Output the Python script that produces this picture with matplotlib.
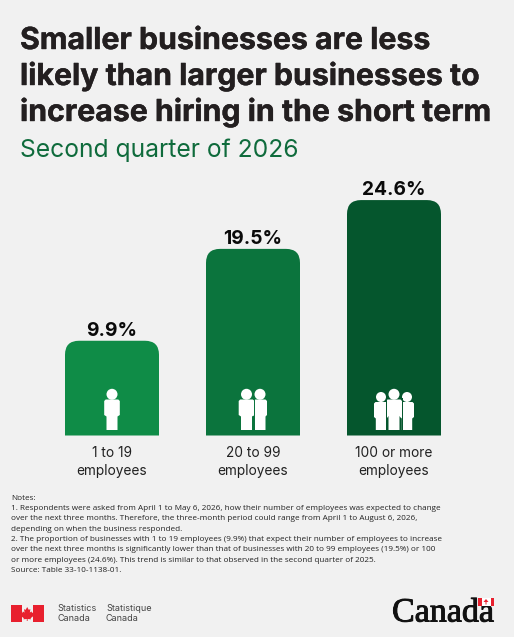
#!/usr/bin/env python3
# -*- coding: utf-8 -*-
import matplotlib
matplotlib.use('Agg')
import matplotlib.pyplot as plt
import matplotlib.patheffects as pe
from matplotlib.patches import PathPatch, Circle, Polygon, Rectangle
from matplotlib.path import Path

W, H = 514, 637
BG = '#f1f1f1'

categories = ['1 to 19\nemployees', '20 to 99\nemployees', '100 or more\nemployees']
values = [9.9, 19.5, 24.6]
bar_labels = ['9.9%', '19.5%', '24.6%']
bar_colors = ['#0f8c47', '#0b743d', '#05562d']

title_lines = ['Smaller businesses are less',
               'likely than larger businesses to',
               'increase hiring in the short term']
subtitle = 'Second quarter of 2026'
notes = ['Notes:',
         '1. Respondents were asked from April 1 to May 6, 2026, how their number of employees was expected to change',
         'over the next three months. Therefore, the three-month period could range from April 1 to August 6, 2026,',
         'depending on when the business responded.',
         '2. The proportion of businesses with 1 to 19 employees (9.9%) that expect their number of employees to increase',
         'over the next three months is significantly lower than that of businesses with 20 to 99 employees (19.5%) or 100',
         'or more employees (24.6%). This trend is similar to that observed in the second quarter of 2025.',
         'Source: Table 33-10-1138-01.']

plt.rcParams['font.family'] = ['Inter', 'DejaVu Sans']

fig = plt.figure(figsize=(W / 100, H / 100), dpi=100, facecolor=BG)

# overlay in image pixels, y pointing down, sits above the bars
bg = fig.add_axes([0, 0, 1, 1], zorder=2)
bg.set_xlim(0, W)
bg.set_ylim(H, 0)
bg.axis('off')

# data axes: 141 px per category, 9.57 px per percent
PX_X = 141
PX_Y = 9.57
BASE = 435.5
ax = fig.add_axes([41.5 / W, (H - BASE) / H, 3 * PX_X / W, 25 * PX_Y / H], zorder=1)
ax.set_xlim(-0.5, 2.5)
ax.set_ylim(0, 25)
ax.axis('off')


def rounded_bar(x, v, color, width=94 / 141, r_px=14):
    rx = r_px / PX_X
    ry = r_px / PX_Y
    l, r = x - width / 2, x + width / 2
    verts = [(l, 0), (l, v - ry), (l, v), (l + rx, v), (r - rx, v), (r, v), (r, v - ry), (r, 0), (l, 0)]
    codes = [Path.MOVETO, Path.LINETO, Path.CURVE3, Path.CURVE3, Path.LINETO,
             Path.CURVE3, Path.CURVE3, Path.LINETO, Path.CLOSEPOLY]
    ax.add_patch(PathPatch(Path(verts, codes), facecolor=color, edgecolor='none'))


for i, v in enumerate(values):
    rounded_bar(i, v, bar_colors[i])
    ax.annotate(bar_labels[i], (i, v), xytext=(0, 0.5), textcoords='offset points', ha='center', va='bottom',
                fontsize=13.8, fontweight='bold', color='#0a0a0a', annotation_clip=False)
    bg.text(112 + i * PX_X, 461.8, categories[i], ha='center', va='center', fontsize=9.85, color='#222222',
            linespacing=1.4)


def person(cx, head_y, half_w, half_leg, top, arm, bottom, color='white', head_r=5.5):
    bg.add_patch(Circle((cx, head_y), head_r, fc=color, ec='none', zorder=5))
    pts = [(cx - half_w + 1.5, top), (cx + half_w - 1.5, top), (cx + half_w, top + 1.5), (cx + half_w, arm),
           (cx + half_leg, arm + 1.5), (cx + half_leg, bottom), (cx - half_leg, bottom),
           (cx - half_leg, arm + 1.5), (cx - half_w, arm), (cx - half_w, top + 1.5)]
    bg.add_patch(Polygon(pts, closed=True, fc=color, ec='none', zorder=5))


# icons
person(112, 394.3, 7.8, 5.5, 399.5, 415, 430)

person(246.5, 394.3, 7.8, 5.5, 399.5, 415, 430)
person(260, 394.3, 7.0, 5.5, 399.5, 415, 430)
bg.add_patch(Rectangle((253.7, 398), 0.9, 33, fc=bar_colors[1], ec='none', zorder=6))

person(381, 397, 7.0, 5.2, 402, 417, 430, head_r=5.0)
person(407, 397, 7.0, 5.2, 402, 417, 430, head_r=5.0)
person(394, 394.3, 8.0, 5.5, 399.5, 415, 430)
bg.add_patch(Rectangle((385.6, 398), 0.9, 33, fc=bar_colors[2], ec='none', zorder=6))
bg.add_patch(Rectangle((401.7, 398), 0.9, 33, fc=bar_colors[2], ec='none', zorder=6))

# title block
for i, line in enumerate(title_lines):
    bg.text(20, 49 + i * 36, line, ha='left', va='baseline', fontsize=21.8, fontweight='bold', color='#231f20',
            path_effects=[pe.withStroke(linewidth=0.3, foreground='#231f20')])
bg.text(20, 157, subtitle, ha='left', va='baseline', fontsize=17.75, color='#0f6b3c')

# notes
for i, line in enumerate(notes):
    bg.text(11, 499.7 + i * 10.3, line, ha='left', va='baseline', fontsize=5.87, color='#222222',
            family=['Open Sans', 'DejaVu Sans'])

# statcan signature
RED = '#e8202e'
bg.add_patch(Rectangle((11, 605), 10.5, 16.5, fc=RED, ec='none'))
bg.add_patch(Rectangle((33, 605), 10.5, 16.5, fc=RED, ec='none'))
leaf = [(27.2, 607), (28.7, 609.8), (30.4, 609.2), (29.8, 612.6), (31.5, 611.4), (32, 612.8), (34, 612.5),
        (33.3, 615), (34, 615.6), (30.6, 618.2), (31, 619.3), (27.6, 619), (27.6, 621), (26.8, 621), (26.8, 619),
        (23.4, 619.3), (23.8, 618.2), (20.4, 615.6), (21.1, 615), (20.4, 612.5), (22.4, 612.8), (22.9, 611.4),
        (24.6, 612.6), (24, 609.2), (25.7, 609.8)]
bg.add_patch(Polygon(leaf, closed=True, fc=RED, ec='none'))
for x, line in [(57, 'Statistics\nCanada'), (106, 'Statistique\nCanada')]:
    bg.text(x, 613.5, line, ha='left', va='center', fontsize=6.5, color='#444444', linespacing=1.05)

# wordmark
bg.text(392, 621.5, 'Canada', ha='left', va='baseline', fontsize=24.5, color='#111111',
        family=['Liberation Serif', 'DejaVu Serif'],
        path_effects=[pe.withStroke(linewidth=0.7, foreground='#111111')])
bg.add_patch(Rectangle((478, 598), 16, 7.5, fc=RED, ec='none', zorder=7))
bg.add_patch(Rectangle((481.5, 598), 9, 7.5, fc='white', ec='none', zorder=7))
bg.add_patch(Polygon([(486, 599), (488.5, 602), (486.5, 602), (486.5, 604.5), (485.5, 604.5), (485.5, 602), (483.5, 602)],
                     closed=True, fc=RED, ec='none', zorder=8))

fig.savefig('out.png', dpi=100, facecolor=BG)
